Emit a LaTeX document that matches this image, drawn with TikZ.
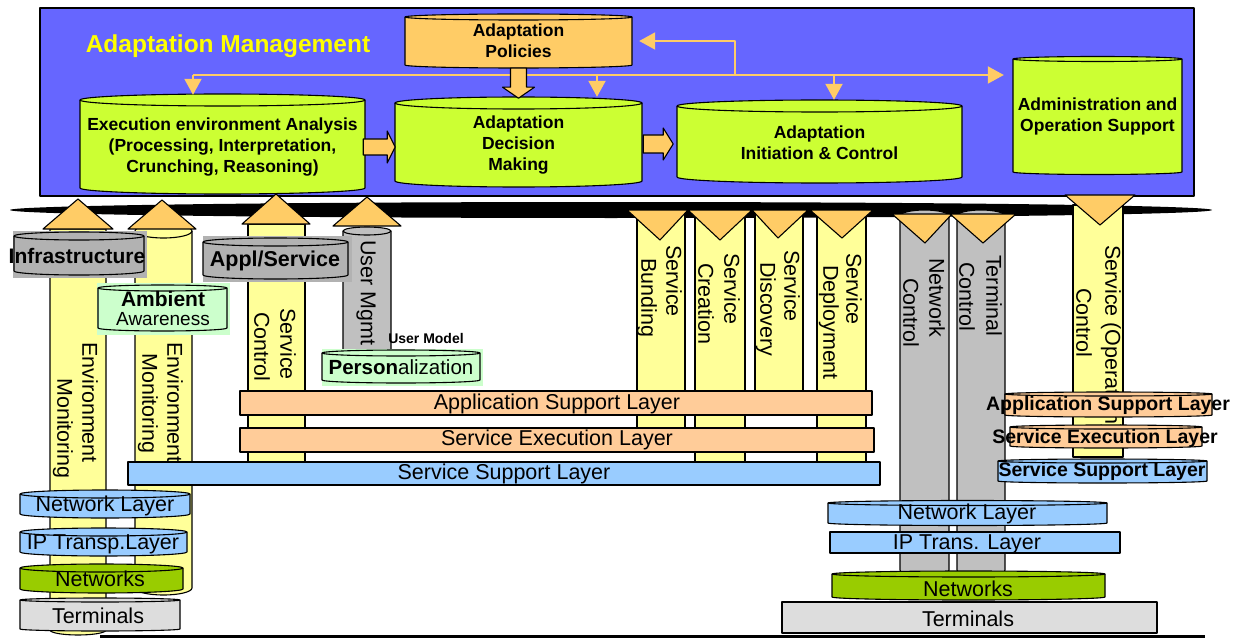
\documentclass[tikz,border=0pt]{standalone}
\usepackage{fontspec}
\setmainfont{Liberation Sans}
\usetikzlibrary{arrows.meta}
\definecolor{amblue}{HTML}{6666FF}
\definecolor{cgreen}{HTML}{CCFF33}
\definecolor{corange}{HTML}{FFCC66}
\definecolor{cyellow}{HTML}{FFFF99}
\definecolor{cgrayA}{HTML}{B2B2B2}
\definecolor{cgrayP}{HTML}{C0C0C0}
\definecolor{clgreen}{HTML}{CCFFCC}
\definecolor{cpeach}{HTML}{FFCC99}
\definecolor{clblue}{HTML}{99CCFF}
\definecolor{cnet}{HTML}{99CC00}
\definecolor{cterm}{HTML}{DDDDDD}
\definecolor{ttlyellow}{HTML}{FFFF00}
% cylinder: x1, x2, y of top ellipse centre, y of bottom ellipse centre, ry, fill
\newcommand{\cylshape}[6]{%
  \pgfmathsetmacro{\cylrx}{(#2-#1)/2}%
  \filldraw[fill=#6,draw=black,line width=1.1pt] (#1,#3) -- (#1,#4)
     arc[start angle=180,end angle=360,x radius=\cylrx pt,y radius=#5pt] -- (#2,#3)
     arc[start angle=0,end angle=180,x radius=\cylrx pt,y radius=#5pt] -- cycle;
  \draw[line width=1.1pt] (#1,#3) arc[start angle=180,end angle=360,x radius=\cylrx pt,y radius=#5pt];
}
\begin{document}
\begin{tikzpicture}[x=1pt,y=-1pt,line join=round,
  bd/.style={draw=black,line width=1.1pt},
  oline/.style={draw=corange,line width=2pt},
  otip/.style={-{Triangle[width=17pt,length=16pt]}},
  cb/.style={font=\bfseries\fontsize{17.5}{21}\selectfont,align=center,inner sep=0pt},
  rg/.style={font=\fontsize{21.5}{26}\selectfont,inner sep=0pt},
  rb/.style={font=\bfseries\fontsize{19.5}{22}\selectfont,inner sep=0pt},
  vt/.style={rg,rotate=-90,anchor=west},
  bigarr/.style={fill=corange,draw=black,line width=1.1pt},
  tri/.style={fill=corange,draw=black,line width=1.1pt},
  layer/.style={draw=black,line width=1.1pt},
]
\useasboundingbox (0,0) rectangle (1257,639);

% management box
\filldraw[fill=amblue,draw=black,line width=1.3pt] (40,8) rectangle (1194,196);
\node[font=\bfseries\fontsize{24.5}{28}\selectfont,text=ttlyellow,inner sep=0pt] (title) at (228,46) {Adaptation Management};

% cylinders inside the box
\cylshape{405}{632}{17}{65}{3}{corange}
\node[cb,minimum width=227pt,minimum height=54pt] (policies) at (518.5,41) {Adaptation\\Policies};
\cylshape{80}{365}{100}{188}{6}{cgreen}
\node[cb,minimum width=285pt,minimum height=104pt] (exec) at (222.5,147) {Execution environment Analysis\\(Processing, Interpretation,\\Crunching, Reasoning)};
\cylshape{395}{642}{103}{181}{6}{cgreen}
\node[cb,minimum width=247pt,minimum height=96pt] (decision) at (518.5,145) {Adaptation\\Decision\\Making};
\cylshape{677}{962}{106}{177}{6}{cgreen}
\node[cb,minimum width=285pt,minimum height=85pt] (init) at (819.5,142.5) {Adaptation\\Initiation \& Control};
\cylshape{1013}{1182}{59}{172}{2.5}{cgreen}
\node[cb,minimum width=169pt,minimum height=118pt] (admin) at (1097.5,116) {Administration and\\Operation Support};

% thin orange connectors
\coordinate (jA) at (193,75);
\coordinate (jB) at (597,75);
\coordinate (jC) at (735,75);
\coordinate (jD) at (834,75);
\draw[oline,otip,shorten >=9pt] (jA) -- (jA -| admin.west);
\draw[oline,otip] (jA) -- (jA |- exec.north);
\draw[oline,otip] (jB) -- (jB |- decision.north);
\draw[oline,otip] (jD) -- (jD |- init.north);
\draw[oline,otip,shorten >=7pt] (jC) |- (policies.east);

% block arrows
\filldraw[bigarr] (policies.south) ++(-8,0) -- ++(0,19) -- ++(-8,0) -- ++(16,11) -- ++(16,-11) -- ++(-8,0) -- ++(0,-19) -- cycle;
\filldraw[bigarr] (exec.east) ++(-2,-8) -- ++(24,0) -- ++(0,-8) -- ++(8,16) -- ++(-8,16) -- ++(0,-8) -- ++(-24,0) -- cycle;
\filldraw[bigarr] (decision.east) ++(1,-10) -- ++(20,0) -- ++(0,-7) -- ++(10,16) -- ++(-10,16) -- ++(0,-7) -- ++(-20,0) -- cycle;

% black bar
\fill[black] (611,210) ellipse [x radius=601pt,y radius=8pt];

% pillars
\filldraw[fill=cyellow,bd] (50,229) -- (50,630) arc[start angle=180,end angle=360,x radius=28pt,y radius=5pt] -- (106,229) -- cycle;
\cylshape{135}{192}{231}{588}{7}{cyellow}
\filldraw[fill=cyellow,bd] (248,224) rectangle (305,462);
\cylshape{343}{391}{231}{350}{4}{cgrayP}
\filldraw[fill=cyellow,bd] (637,214) rectangle (685,440);
\filldraw[fill=cyellow,bd] (695,214) rectangle (745,462);
\filldraw[fill=cyellow,bd] (755,214) rectangle (803,400);
\filldraw[fill=cyellow,bd] (817,214) rectangle (866,462);
\cylshape{900}{949}{216}{570}{6}{cgrayP}
\cylshape{957}{1005}{216}{570}{6}{cgrayP}
\filldraw[fill=cyellow,bd] (1073,205) rectangle (1123,457);

% pillar texts
\node[vt] (em1a) at (90,342) {Environment};
\node[vt] (em1b) at (63,378) {Monitoring};
\node[vt] (em2a) at (175,342) {Environment};
\node[vt] (em2b) at (148,353) {Monitoring};
\node[vt] (sca) at (288,308) {Service};
\node[vt] (scb) at (262,312) {Control};
\node[vt] (um) at (366,240) {User Mgmt};
\node[vt] (sba) at (674,245) {Service};
\node[vt] (sbb) at (647,258) {Bunding};
\node[vt] (sra) at (732,253) {Service};
\node[vt] (srb) at (706,263) {Creation};
\node[vt] (sda) at (792,250) {Service};
\node[vt] (sdb) at (766,262) {Discovery};
\node[vt] (spa) at (854,253) {Service};
\node[vt] (spb) at (829,265) {Deployment};
\node[vt] (nca) at (937,258) {Network};
\node[vt] (ncb) at (911,278) {Control};
\node[vt] (tca) at (994,255) {Terminal};
\node[vt] (tcb) at (967,262) {Control};
\node[vt] (soa) at (1111,245) {Service (Operation)};
\node[vt] (sob) at (1084,288) {Control};

% triangles (arrows to / from the bus)
\filldraw[tri] (43,229) -- (113,229) -- (78,199) -- cycle;
\filldraw[tri] (128,229) -- (196,229) -- (162,200) -- cycle;
\filldraw[tri] (242,224) -- (310,224) -- (276,194) -- cycle;
\filldraw[tri] (333,226) -- (401,226) -- (367,197) -- cycle;
\filldraw[tri] (627,210) -- (688,210) -- (660,240) -- cycle;
\filldraw[tri] (688,210) -- (752,210) -- (720,240) -- cycle;
\filldraw[tri] (752,210) -- (808,210) -- (778,238) -- cycle;
\filldraw[tri] (810,210) -- (873,210) -- (842,238) -- cycle;
\filldraw[tri] (892,214) -- (952,214) -- (925,243) -- cycle;
\filldraw[tri] (950,214) -- (1016,214) -- (983,243) -- cycle;
\filldraw[tri] (1065,195) -- (1135,195) -- (1100,225) -- cycle;

% label cylinders
\fill[cgrayA] (13,231) rectangle (147,278);
\cylshape{14}{144}{236}{271}{4}{cgrayA}
\node[font=\bfseries\fontsize{21}{24}\selectfont,inner sep=0pt] (infra) at (77,256) {Infrastructure};
\fill[cgrayA] (203,236) rectangle (352,282);
\cylshape{203}{348}{242}{275}{4}{cgrayA}
\node[font=\bfseries\fontsize{21.5}{24}\selectfont,inner sep=0pt] (appl) at (275,261) {Appl/Service};
\fill[clgreen] (97,283) rectangle (230,335);
\cylshape{98}{227}{288}{328}{3}{clgreen}
\node[font=\bfseries\fontsize{21}{24}\selectfont,inner sep=0pt] (amb1) at (163,299) {Ambient};
\node[font=\fontsize{19}{22}\selectfont,inner sep=0pt] (amb2) at (163,319) {Awareness};
\fill[clgreen] (322,349) rectangle (483,386);
\cylshape{322}{480}{353}{380}{3}{clgreen}
\node[font=\fontsize{20.5}{24}\selectfont,inner sep=0pt] (pers) at (401,367) {\textbf{Person}alization};
\node[font=\bfseries\fontsize{14}{16}\selectfont,inner sep=0pt] (umodel) at (426,338) {User Model};

% layers (middle)
\filldraw[fill=cpeach,layer] (240,391) rectangle (872,415);
\node[rg] (asl) at (557,404) {Application Support Layer};
\filldraw[fill=cpeach,layer] (240,428) rectangle (874,452);
\node[rg] (sel) at (557,440) {Service Execution Layer};
\filldraw[fill=clblue,layer] (128,462) rectangle (880,485);
\node[rg] (ssl) at (504,474) {Service Support Layer};

% layers (right)
\cylshape{1005}{1212}{394}{415}{2}{cpeach}
\node[rb] (aslr) at (1108,405) {Application Support Layer};
\cylshape{1010}{1202}{427}{446}{2}{cpeach}
\node[rb] (selr) at (1105,438) {Service Execution Layer};
\cylshape{998}{1207}{461}{481}{2}{clblue}
\node[rb] (sslr) at (1102,471) {Service Support Layer};

% bottom left stack
\cylshape{20}{190}{494}{514}{4}{clblue}
\node[rg] (nll) at (105,506) {Network Layer};
\cylshape{20}{187}{532}{552}{4}{clblue}
\node[rg] (ipl) at (103,544) {IP Transp.Layer};
\cylshape{20}{183}{568}{589}{4}{cnet}
\node[rg] (netl) at (100,579) {Networks};
\cylshape{20}{180}{600}{629}{2}{cterm}
\node[rg] (terml) at (98,616) {Terminals};

% bottom right stack
\cylshape{828}{1107}{503}{523}{2.5}{clblue}
\node[rg] (nlr) at (967,514) {Network Layer};
\filldraw[fill=clblue,layer] (830,532) rectangle (1120,553);
\node[rg] (ipr) at (967,544) {IP Trans. Layer};
\cylshape{832}{1105}{574}{597}{3}{cnet}
\node[rg] (netr) at (968,589) {Networks};
\filldraw[fill=cterm,layer] (782,602) rectangle (1157,633);
\node[rg] (termr) at (968,619) {Terminals};

% base line
\coordinate (bl1) at (100,636.5);
\coordinate (bl2) at (1205,636.5);
\draw[line width=3pt] (bl1) -- (bl2);
\end{tikzpicture}
\end{document}
